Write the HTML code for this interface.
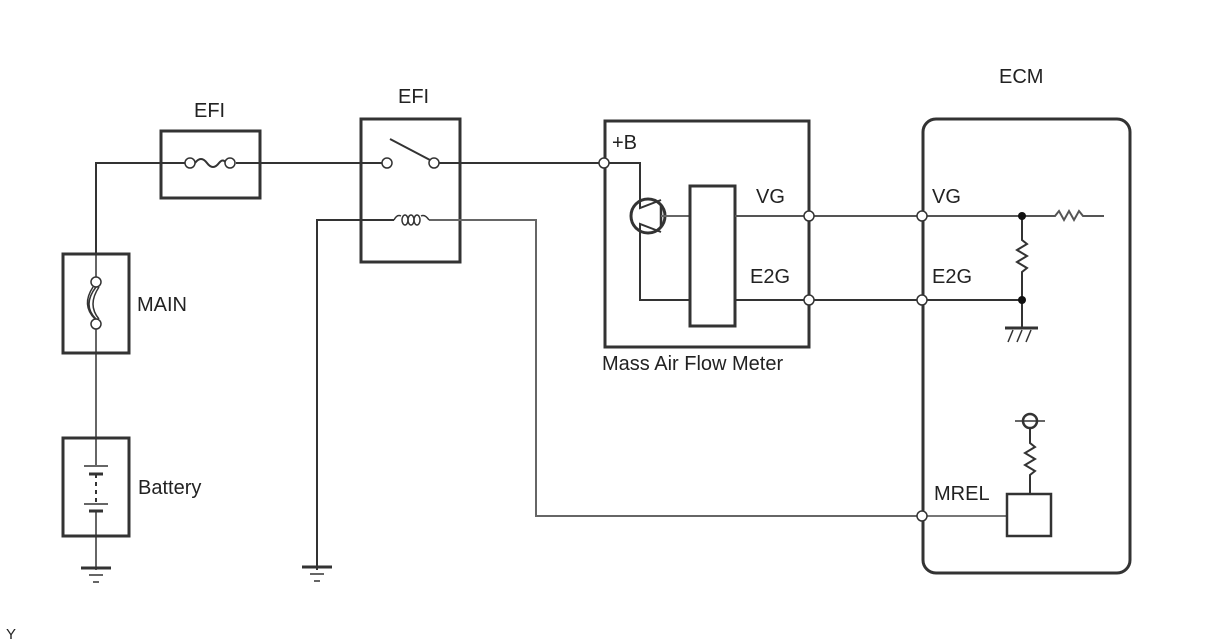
<!DOCTYPE html>
<html><head><style>
html,body{margin:0;padding:0;background:#fff;}
svg{display:block;}
text{font-family:"Liberation Sans",sans-serif;font-size:20px;fill:#222;}
</style></head><body>
<svg width="1208" height="644" viewBox="0 0 1208 644" xmlns="http://www.w3.org/2000/svg">
<g fill="none" stroke="#333" stroke-width="2">
<polyline points="160,163 96,163 96,253" />
<line x1="96" y1="253" x2="96" y2="282" stroke="#666"/>
<line x1="96" y1="324" x2="96" y2="437" stroke="#666"/>
<line x1="96" y1="437" x2="96" y2="465" stroke="#666"/>
<line x1="96" y1="510" x2="96" y2="570" stroke="#666"/>
<rect x="161" y="131" width="99" height="67" stroke-width="3"/>
<line x1="260" y1="163" x2="360" y2="163"/>
<line x1="160" y1="163" x2="185" y2="163"/>
<line x1="236" y1="163" x2="260" y2="163"/>
<path d="M195,163 q6,-8 12,0 q6,8 12,0 q4,-5 7,0"/>
<rect x="63" y="254" width="66" height="99" stroke-width="3"/>
<path d="M96,287 q-14,18 0,32 M93,287 q-12,18 2,32 M99,287 q-12,18 0,32" stroke-width="1.5"/>
<rect x="63" y="438" width="66" height="98" stroke-width="3"/>
<line x1="84" y1="466" x2="108" y2="466" stroke="#666"/>
<line x1="89" y1="474" x2="103" y2="474" stroke-width="3"/>
<line x1="96" y1="474" x2="96" y2="502" stroke-dasharray="4,4"/>
<line x1="84" y1="504" x2="108" y2="504" stroke="#666"/>
<line x1="89" y1="511" x2="103" y2="511" stroke-width="3"/>
<line x1="81" y1="568" x2="111" y2="568" stroke-width="3"/>
<line x1="89" y1="575" x2="103" y2="575" stroke="#666"/>
<line x1="93" y1="582" x2="99" y2="582" stroke="#666"/>
<line x1="302" y1="567" x2="332" y2="567" stroke-width="3"/>
<line x1="310" y1="574" x2="324" y2="574" stroke="#666"/>
<line x1="314" y1="581" x2="320" y2="581" stroke="#666"/>
<rect x="361" y="119" width="99" height="143" stroke-width="3"/>
<line x1="360" y1="163" x2="383" y2="163"/>
<line x1="438" y1="163" x2="604" y2="163"/>
<line x1="390" y1="139" x2="430" y2="160"/>
<polyline points="317,570 317,220 394,220"/>
<polyline points="429,220 536,220 536,516 922,516" stroke="#666"/>
<path d="M394,220 q3,-6 7,-4" stroke-width="1.5"/>
<ellipse cx="405" cy="220" rx="3" ry="5" stroke-width="1.5"/>
<ellipse cx="411" cy="220" rx="3" ry="5" stroke-width="1.5"/>
<ellipse cx="417" cy="220" rx="3" ry="5" stroke-width="1.5"/>
<path d="M421,216 q4,-2 8,4" stroke-width="1.5"/>
<rect x="605" y="121" width="204" height="226" stroke-width="3"/>
<polyline points="604,163 640,163 640,208 661,200"/>
<circle cx="648" cy="216" r="17" stroke-width="3"/>
<line x1="661" y1="204" x2="661" y2="228" stroke-width="2.5"/>
<polyline points="661,232 640,224 640,300 690,300"/>
<line x1="661" y1="216" x2="690" y2="216" stroke="#666"/>
<rect x="690" y="186" width="45" height="140" stroke-width="3"/>
<line x1="735" y1="216" x2="1050" y2="216" stroke="#555"/>
<line x1="735" y1="300" x2="1022" y2="300" stroke="#333"/>
<rect x="923" y="119" width="207" height="454" rx="13" stroke-width="3"/>
<path d="M1022,216 L1022,240 l5,4 -10,6 10,6 -10,6 10,6 -5,4 L1022,300 L1022,327" />
<path d="M1022,216 L1055,216 l4,-5 5,9 5,-9 5,9 5,-9 4,5 L1104,216" stroke="#555"/>
<line x1="1005" y1="328" x2="1038" y2="328" stroke-width="3"/>
<path d="M1008,342 l5,-12 M1017,342 l5,-12 M1026,342 l5,-12" stroke-width="1.5"/>
<line x1="922" y1="516" x2="1007" y2="516" stroke="#777"/>
<rect x="1007" y="494" width="44" height="42" stroke-width="2.5"/>
<path d="M1030,494 L1030,475 l5,-4 -10,-6 10,-6 -10,-6 10,-6 -5,-4 L1030,428"/>
<circle cx="1030" cy="421" r="7" stroke-width="2.5"/>
<line x1="1015" y1="421" x2="1045" y2="421" stroke-width="1.5"/>
</g>
<g fill="#fff" stroke="#333" stroke-width="1.5">
<circle cx="190" cy="163" r="5"/><circle cx="230" cy="163" r="5"/>
<circle cx="96" cy="282" r="5"/><circle cx="96" cy="324" r="5"/>
<circle cx="387" cy="163" r="5"/><circle cx="434" cy="163" r="5"/>
<circle cx="604" cy="163" r="5"/>
<circle cx="809" cy="216" r="5"/><circle cx="809" cy="300" r="5"/>
<circle cx="922" cy="216" r="5"/><circle cx="922" cy="300" r="5"/>
<circle cx="922" cy="516" r="5"/>
</g>
<circle cx="1022" cy="216" r="4" fill="#111"/>
<circle cx="1022" cy="300" r="4" fill="#111"/>
<text x="194" y="117">EFI</text>
<text x="398" y="103">EFI</text>
<text x="999" y="83">ECM</text>
<text x="137" y="311">MAIN</text>
<text x="138" y="494">Battery</text>
<text x="612" y="149">+B</text>
<text x="756" y="203">VG</text>
<text x="750" y="283">E2G</text>
<text x="932" y="203">VG</text>
<text x="932" y="283">E2G</text>
<text x="934" y="500">MREL</text>
<text x="602" y="370">Mass Air Flow Meter</text>
<text x="6" y="639" style="font-size:15px">Y</text>
</svg>
</body></html>
